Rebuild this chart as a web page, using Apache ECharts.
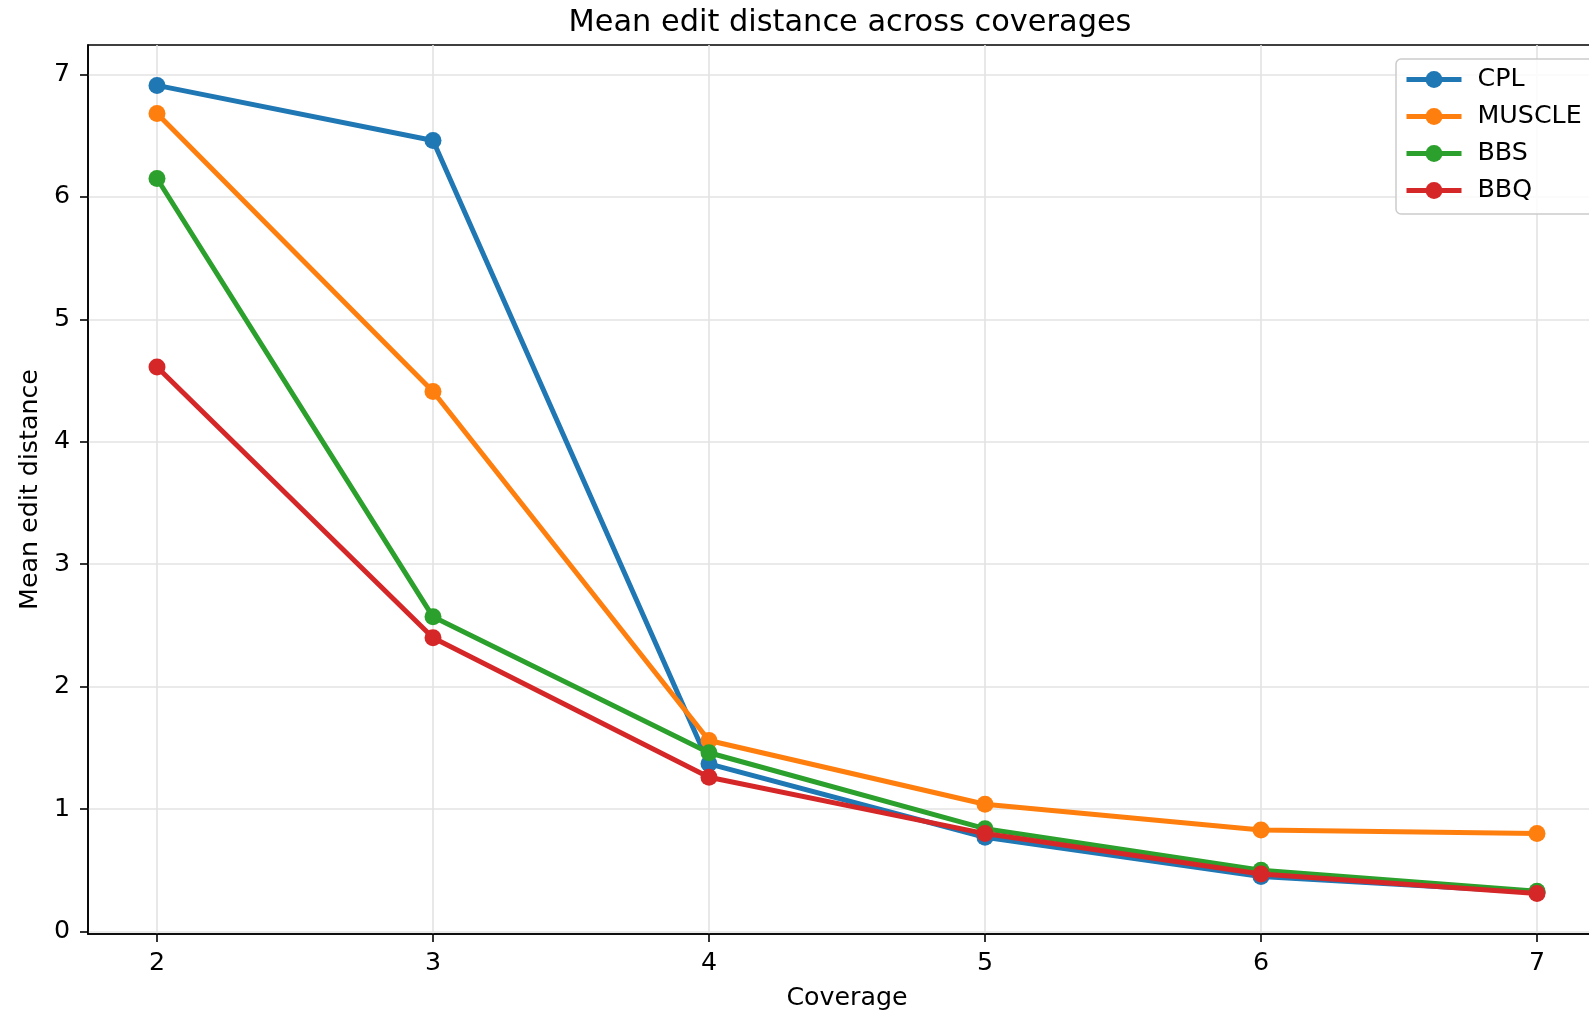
<!DOCTYPE html>
<html>
<head>
<meta charset="utf-8">
<title>Mean edit distance across coverages</title>
<script src="https://cdn.jsdelivr.net/npm/echarts@6/dist/echarts.min.js"></script>
<style>
  html, body { margin: 0; padding: 0; background: #fff; }
  #main { width: 1589px; height: 1014px; }
</style>
</head>
<body>
<div id="main"></div>
<script>
// coverage values on the x axis
const coverages = [2, 3, 4, 5, 6, 7];
const xTicks = [2, 3, 4, 5, 6, 7];
const yTicks = [0, 1, 2, 3, 4, 5, 6, 7];

// mean edit distance per tool
const cpl = [6.91, 6.46, 1.37, 0.77, 0.45, 0.32];
const muscle = [6.68, 4.41, 1.56, 1.04, 0.83, 0.80];
const bbs = [6.15, 2.57, 1.46, 0.84, 0.50, 0.33];
const bbq = [4.61, 2.40, 1.26, 0.80, 0.47, 0.31];

const seriesNames = ['CPL', 'MUSCLE', 'BBS', 'BBQ'];
const seriesValues = [cpl, muscle, bbs, bbq];
const colors = ['#1f77b4', '#ff7f0e', '#2ca02c', '#d62728'];

const font = 'DejaVu Sans';

var myChart = echarts.init(document.getElementById('main'));

var option = {
  animation: false,
  color: colors,
  textStyle: { fontFamily: font, color: '#000' },
  title: {
    text: 'Mean edit distance across coverages',
    left: 845,
    textAlign: 'center',
    top: 3,
    textStyle: { fontFamily: font, fontSize: 30.4, fontWeight: 'normal', color: '#000' }
  },
  legend: {
    orient: 'vertical',
    left: 1396,
    top: 59,
    padding: [8, 40, 11, 8],
    itemWidth: 55,
    itemHeight: 21,
    itemGap: 12,
    backgroundColor: 'rgba(255,255,255,0.85)',
    borderColor: '#cccccc',
    borderWidth: 1.5,
    borderRadius: 5,
    lineStyle: { width: 5 },
    textStyle: { fontFamily: font, fontSize: 25.3, color: '#000', padding: [0, 0, 0, 11] },
    data: seriesNames
  },
  grid: {
    left: 88,
    top: 45,
    width: 1518,
    height: 889,
    outerBoundsMode: 'none',
    show: true,
    borderColor: '#000',
    borderWidth: 1.6,
    backgroundColor: 'transparent'
  },
  xAxis: {
    type: 'value',
    min: 1.75,
    max: 7.25,
    name: 'Coverage',
    nameLocation: 'middle',
    nameGap: 52,
    nameTextStyle: { fontFamily: font, fontSize: 25.3, color: '#000' },
    axisLine: { onZero: false, lineStyle: { color: '#000', width: 1.6 } },
    axisTick: { show: true, length: 8, customValues: xTicks, lineStyle: { color: '#000', width: 1.6 } },
    axisLabel: {
      customValues: xTicks,
      margin: 17,
      fontFamily: font,
      fontSize: 25.3,
      color: '#000'
    },
    splitLine: { show: true, customValues: xTicks, lineStyle: { color: '#e3e3e3', width: 1.6 } }
  },
  yAxis: {
    type: 'value',
    min: -0.02,
    max: 7.24,
    name: 'Mean edit distance',
    nameLocation: 'middle',
    nameRotate: 90,
    nameGap: 44,
    nameTextStyle: { fontFamily: font, fontSize: 25.3, color: '#000' },
    axisLine: { show: true, lineStyle: { color: '#000', width: 1.6 } },
    axisTick: { show: true, length: 8, customValues: yTicks, lineStyle: { color: '#000', width: 1.6 } },
    axisLabel: {
      customValues: yTicks,
      margin: 18,
      fontFamily: font,
      fontSize: 25.3,
      color: '#000'
    },
    splitLine: { show: true, customValues: yTicks, lineStyle: { color: '#e3e3e3', width: 1.6 } }
  },
  series: seriesNames.map(function (name, i) {
    return {
      name: name,
      type: 'line',
      data: coverages.map(function (c, j) { return [c, seriesValues[i][j]]; }),
      symbol: 'circle',
      symbolSize: 17,
      showSymbol: true,
      lineStyle: { width: 5, color: colors[i] },
      itemStyle: { color: colors[i] },
      z: 2 + i
    };
  })
};

myChart.setOption(option);
</script>
</body>
</html>
